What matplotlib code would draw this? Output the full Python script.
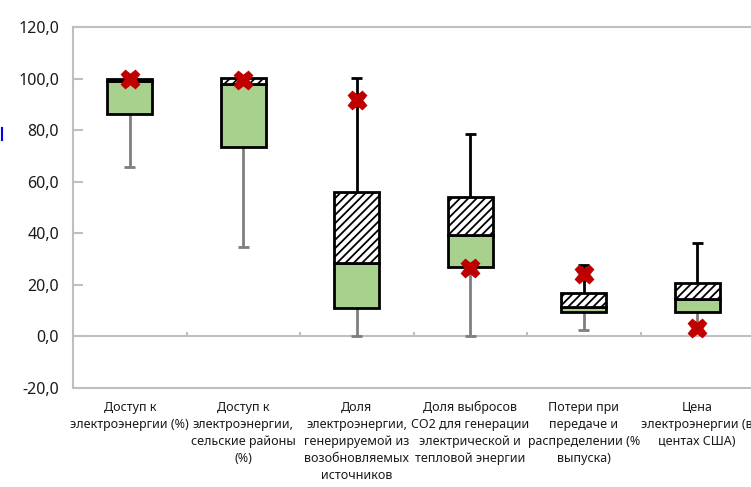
import matplotlib.pyplot as plt
import matplotlib.lines as mlines
import numpy as np

plt.rcParams['font.family'] = ['Noto Sans', 'DejaVu Sans']
plt.rcParams['hatch.linewidth'] = 1.3

labels = [
    "Доступ к\nэлектроэнергии (%)",
    "Доступ к\nэлектроэнергии,\nсельские районы\n(%)",
    "Доля\nэлектроэнергии,\nгенерируемой из\nвозобновляемых\nисточников",
    "Доля выбросов\nCO2 для генерации\nэлектрической и\nтепловой энергии",
    "Потери при\nпередаче и\nраспределении (%\nвыпуска)",
    "Цена\nэлектроэнергии (в\nцентах США)",
]
q1 = [86.2, 73.3, 10.9, 27.0, 9.5, 9.5]
med = [99.2, 97.8, 28.3, 39.3, 11.5, 14.5]
q3 = [100.0, 100.2, 56.1, 53.9, 16.9, 20.6]
lo = [65.7, 34.6, 0.0, 0.0, 2.4, 3.0]
hi = [100.0, 100.2, 100.4, 78.6, 27.8, 36.3]
marks = [100.0, 99.5, 91.6, 26.4, 24.1, 3.1]

x = np.arange(len(labels))
green = '#a9d18e'
gray = '#bfbfbf'

fig = plt.figure(figsize=(7.51, 4.87), dpi=100)
ax = fig.add_axes([73 / 751, 99 / 487, 681 / 751, 361 / 487])

w = 0.4
cw = 0.1
# whiskers
ax.vlines(x, lo, q1, color='#7f7f7f', lw=2, zorder=1)
ax.hlines(lo, x - cw / 2, x + cw / 2, color='#7f7f7f', lw=2, zorder=1)
ax.vlines(x, q3, hi, color='black', lw=2, zorder=1)
ax.hlines(hi, x - cw / 2, x + cw / 2, color='black', lw=2, zorder=1)

# boxes
ax.bar(x, np.array(med) - np.array(q1), bottom=q1, width=w, color=green,
       edgecolor='black', lw=2, zorder=2)
ax.bar(x, np.array(q3) - np.array(med), bottom=med, width=w, color='white',
       edgecolor='black', lw=2, hatch='////', zorder=2)

ax.plot(x, marks, 'X', color='#c00000', ms=13, mec='#c00000', zorder=3,
        clip_on=False)

ax.set_xlim(-0.5, 5.5)
ax.set_ylim(-20, 120)
ax.set_yticks(np.arange(-20, 121, 20))
ax.set_yticklabels([f"{v:.1f}".replace('.', ',') for v in np.arange(-20, 121, 20)],
                   fontsize=11.5, color='#1a1a1a')
ax.tick_params(axis='y', direction='in', length=7, color=gray, width=1.5, pad=10)
ax.set_xticks([])
for s in ax.spines.values():
    s.set_color(gray)
    s.set_linewidth(1.5)

sec = ax.secondary_xaxis(20 / 140)
sec.set_xticks(x[:-1] + 0.5)
sec.set_xticklabels([])
sec.tick_params(direction='in', length=3, color=gray, width=1.5)
sec.spines['bottom'].set_color(gray)
sec.spines['bottom'].set_linewidth(1.5)

for xi, lab in zip(x, labels):
    ax.text(xi, -0.035, lab, transform=ax.get_xaxis_transform(), ha='center',
            va='top', fontsize=9, color='#1a1a1a', linespacing=1.4)

fig.add_artist(mlines.Line2D([1.5 / 751, 1.5 / 751], [1 - 128 / 487, 1 - 140 / 487],
                             color='#0000ff', lw=1.5))

fig.savefig('out.png', dpi=100)
